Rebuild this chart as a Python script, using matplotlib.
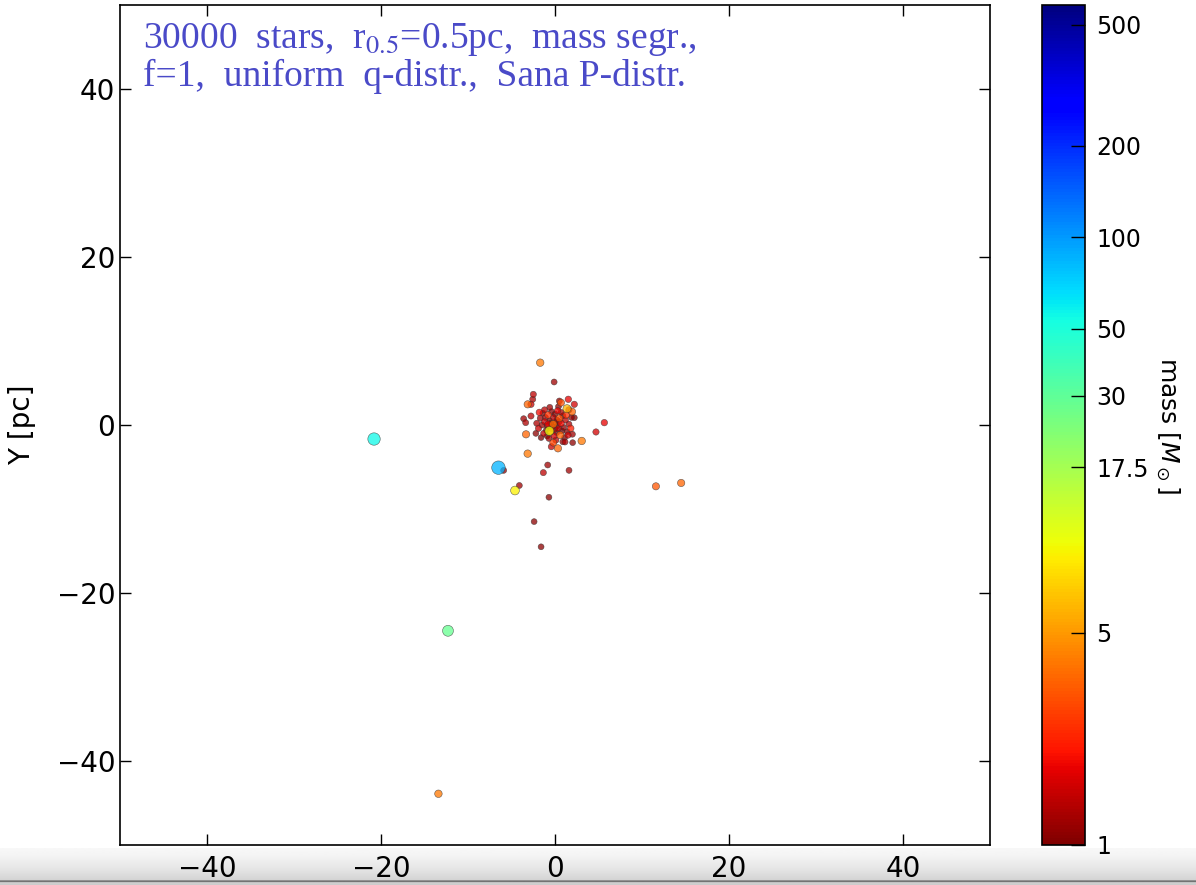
"""
Projected positions of the ejected / remaining massive stars, coloured by mass.
"""

import matplotlib
matplotlib.use("Agg")
import matplotlib.pyplot as plt
import numpy as np
from matplotlib.colors import LogNorm

# outlying stars (x, y in pc, mass in Msun)
out_x = [-20.8, -6.5, -5.9, -4.6, -4.1, -12.3, -13.4, 11.6, 14.5, -2.4, -1.6,
         -1.7, -0.1, 5.67, 4.71, 3.07, 1.61, -0.84, -1.34, -3.14, -0.7, -3.33]
out_y = [-1.67, -5.08, -5.4, -7.8, -7.2, -24.5, -43.9, -7.3, -6.9, -11.5, -14.5,
         7.42, 5.12, 0.28, -0.83, -1.9, -5.4, -4.76, -5.67, -3.41, -8.6, -1.11]
out_m = [55, 85, 1.2, 9, 1.2, 28, 4, 3.2, 3.5, 1.1, 1.1,
         4, 1.2, 1.8, 1.6, 4, 1.2, 1.2, 1.4, 4, 1.1, 3.5]

# dense core of the cluster
core_x = [-2.49, -2.56, -3.14, -2.76, 0.5, 0.69, 1.53, 2.22, 1.38, 1.95, 2.22,
          -3.6, -3.37, -2.76, 2.03, 1.15, 0.34, -0.42,
          -0.3, 0.1, -0.6, 0.4, -0.9, 0.7, -0.2, 0.2, -1.2, 1.0, -0.5, 0.5,
          -1.0, 1.2, -0.1, 0.0, -1.5, 1.4, -0.8, 0.9, -1.3, 0.6, -0.4, 1.6,
          -1.7, 0.3, -0.7, 1.1, -1.9, 1.8, -0.2, 0.3, -0.5, 0.0, 0.2, -0.8,
          0.8, -0.4, 0.5, -1.1, 1.3, -1.4, 0.1, -0.9, 1.5, -1.6, 0.7, -0.2,
          0.9, -1.2, 1.9, -2.1, 2.0, -0.6, 0.4, -2.2, 1.6, -1.8, -0.65]
core_y = [3.65, 3.06, 2.46, 2.46, 2.86, 2.66, 3.06, 2.46, 1.94, 1.59, 0.87,
          0.75, 0.28, 1.07, -2.1, -2.02, -2.78, -2.58,
          -0.2, 0.3, 0.5, -0.4, -0.1, 0.2, 0.9, -0.9, 0.4, -0.3, -0.8, 0.8,
          -0.6, 0.6, -1.3, 1.3, 0.0, -0.8, 1.2, 1.1, -1.0, -1.2, 1.6, 0.1,
          0.8, 1.7, -1.6, -1.5, -0.4, -0.4, 0.1, -0.1, 0.2, -0.5, 0.6, 0.1,
          -0.7, -0.4, 0.4, 0.9, 1.2, 1.4, -1.8, -1.3, -1.2, -1.5, 1.5, -2.1,
          -2.0, 1.8, 0.9, 0.2, -1.1, 2.1, 2.2, -1.0, 1.8, 1.5, -0.71]
core_m = [1.4, 1.3, 3.5, 1.6, 1.2, 3.0, 1.8, 1.6, 6.0, 3.5, 1.1,
          1.2, 1.3, 1.4, 1.1, 1.3, 3.5, 1.5,
          1.1, 1.2, 1.0, 1.4, 1.1, 1.9, 1.3, 1.1, 1.5, 1.1, 2.2, 3.0,
          1.0, 1.4, 1.6, 1.1, 1.2, 1.1, 2.5, 1.2, 1.4, 3.4, 1.1, 1.3,
          1.2, 1.8, 1.2, 1.1, 1.5, 2.2, 3.8, 1.0, 1.1, 1.3, 1.2, 1.8,
          1.0, 1.5, 1.1, 1.2, 2.4, 1.1, 1.4, 1.1, 1.6, 1.0, 1.3, 2.8,
          1.2, 1.4, 1.1, 1.3, 1.2, 1.2, 1.1, 1.1, 1.6, 1.9, 10]

cbar_ticks = [1, 5, 17.5, 30, 50, 100, 200, 500]
cbar_labels = ["1", "5", "17.5", "30", "50", "100", "200", "500"]

W, H = 1196, 885


def main():
    x = np.array(core_x + out_x)
    y = np.array(core_y + out_y)
    m = np.array(core_m + out_m)
    order = np.argsort(m)  # heavy stars drawn on top
    x, y, m = x[order], y[order], m[order]

    fig = plt.figure(figsize=(W / 100, H / 100), dpi=100)
    fig.patch.set_facecolor("white")

    # window frame strip at the bottom of the screenshot
    strip = fig.add_axes([0, 0, 1, 37 / H], zorder=-5)
    grad = np.linspace(0, 1, 40)[:, None]
    shade = 0.97 - 0.17 * grad ** 1.5
    shade[-5:-3] = 0.45
    strip.imshow(np.repeat(shade, 2, axis=1), cmap="gray", vmin=0, vmax=1,
                 aspect="auto", extent=[0, 1, 0, 1])
    strip.axis("off")

    ax = fig.add_axes([120 / W, 40 / H, 870 / W, 840 / H])
    norm = LogNorm(vmin=1, vmax=580)
    sizes = 17.4 * m ** 0.38
    sc = ax.scatter(x, y, c=m, s=sizes, cmap="jet_r", norm=norm, alpha=0.75,
                    edgecolors="#333333", linewidths=0.4)
    ax.set_xlim(-50, 50)
    ax.set_ylim(-50, 50)
    ax.set_xticks([-40, -20, 0, 20, 40])
    ax.set_yticks([-40, -20, 0, 20, 40])
    ax.tick_params(direction="in", length=8, width=1, labelsize=20,
                   top=True, right=True)
    ax.tick_params(axis="x", pad=7)
    for sp in ax.spines.values():
        sp.set_linewidth(1.2)
    ax.set_ylabel("Y [pc]", fontsize=20, labelpad=15)

    ax.text(0.027, 0.981, "30000  stars,  r$_{0.5}$=0.5pc,  mass segr.,\n"
            "f=1,  uniform  q-distr.,  Sana P-distr.",
            transform=ax.transAxes, ha="left", va="top", fontsize=27,
            color="#4a4ac8", family="Liberation Serif", linespacing=1.05,
            math_fontfamily="stix")

    cax = fig.add_axes([1042 / W, 40 / H, 43 / W, 840 / H])
    cb = fig.colorbar(sc, cax=cax)
    cb.solids.set_alpha(1)
    cb.set_ticks(cbar_ticks)
    cb.set_ticklabels(cbar_labels)
    cb.minorticks_off()
    cax.tick_params(direction="in", length=10, width=1, labelsize=17, pad=8)
    cb.outline.set_linewidth(1.2)
    cb.set_label(r"mass [$M_\odot$]", rotation=270, fontsize=18, labelpad=24)

    fig.savefig("out.png", dpi=100)
    plt.close(fig)


if __name__ == "__main__":
    main()
